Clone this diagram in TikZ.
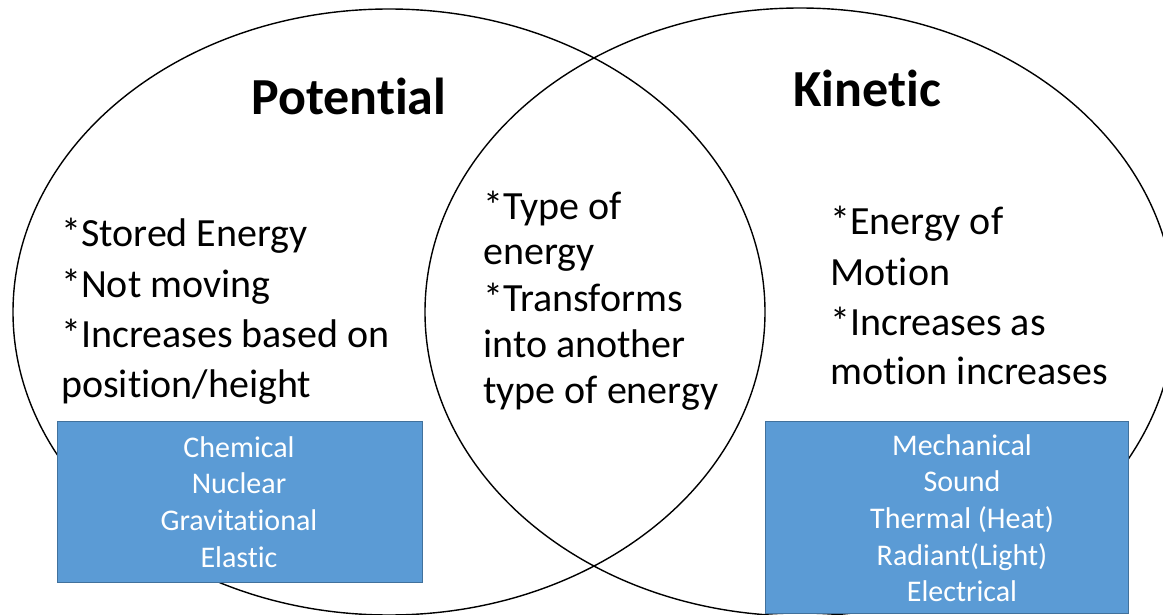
\documentclass[tikz,border=0pt]{standalone}
\usepackage{fontspec}
\setmainfont{Carlito}[Ligatures={NoCommon}, Contextuals={NoAlternate}]
\definecolor{boxblue}{HTML}{5B9BD5}
\definecolor{boxedge}{HTML}{41719C}
\begin{document}
\begin{tikzpicture}[x=1pt,y=-1pt,
  ring/.style={draw=black, line width=1.4pt},
  tbox/.style={draw=boxedge, fill=boxblue, line width=1pt, anchor=north west, inner sep=0},
  title/.style={font=\fontsize{52}{62}\selectfont\bfseries, anchor=base west, inner sep=0},
  body/.style={font=\fontsize{40}{50}\selectfont, anchor=base west, inner sep=0},
  item/.style={font=\fontsize{30}{36}\selectfont, text=white, anchor=base, inner sep=0}]
\useasboundingbox (0,0) rectangle (1163,615);
\begin{scope}
\clip (0,0) rectangle (1163,615);
\draw[ring] (389,312) ellipse [x radius=376, y radius=303];
\draw[ring] (800,312) ellipse [x radius=375, y radius=304];
\end{scope}
% boxes
\node (lbox) [tbox, minimum width=365pt, minimum height=161pt] at (57,421) {};
\node (rbox) [tbox, minimum width=363pt, minimum height=192pt] at (765,421) {};
% titles
\node (tpot) [title] at (251,115) {Potential};
\node (tkin) [title] at (793,107) {Kinetic};
% left text
\node (l1) [body] at (61,247) {*Stored Energy};
\node (l2) [body] at (61,297) {*Not moving};
\node (l3) [body] at (61,347) {*Increases based on};
\node (l4) [body] at (61,397) {position/height};
% middle text
\node (m1) [body] at (483,219) {*Type of};
\node (m2) [body] at (483,265) {energy};
\node (m3) [body] at (483,311) {*Transforms};
\node (m4) [body] at (483,357) {into another};
\node (m5) [body] at (483,403) {type of energy};
% right text
\node (r1) [body] at (830,235) {*Energy of};
\node (r2) [body] at (830,285) {Motion};
\node (r3) [body] at (830,335) {*Increases as};
\node (r4) [body] at (830,384) {motion increases};
% left box items
\node (b1) [item] at (239,457) {Chemical};
\node (b2) [item] at (239,493) {Nuclear};
\node (b3) [item] at (239,530) {Gravitational};
\node (b4) [item] at (239,567) {Elastic};
% right box items
\node (c1) [item] at (962,455) {Mechanical};
\node (c2) [item] at (962,491) {Sound};
\node (c3) [item] at (962,528) {Thermal (Heat)};
\node (c4) [item] at (962,565) {Radiant(Light)};
\node (c5) [item] at (962,601) {Electrical};
\end{tikzpicture}
\end{document}
